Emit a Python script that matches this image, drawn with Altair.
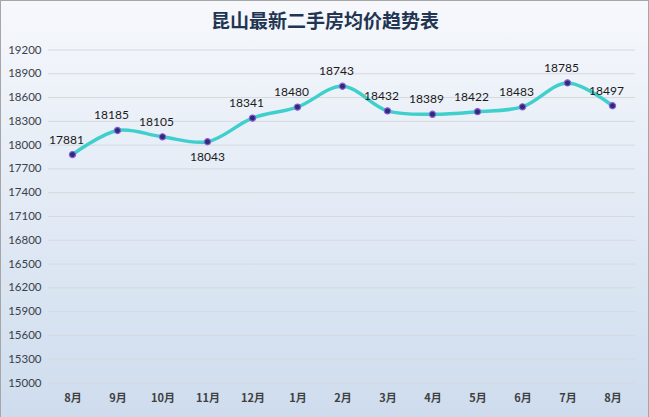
import json
import altair as alt
import pandas as pd

months = ["8月", "9月", "10月", "11月", "12月", "1月", "2月", "3月", "4月", "5月", "6月", "7月", "8月"]
prices = [17881, 18185, 18105, 18043, 18341, 18480, 18743, 18432, 18389, 18422, 18483, 18785, 18497]
below_labels = [3]  # indices whose value label sits under the point
y_ticks = list(range(15000, 19201, 300))
title_text = "昆山最新二手房均价趋势表"

df = pd.DataFrame({"idx": list(range(len(months))), "month": months, "price": prices})
df["pos"] = ["below" if i in below_labels else "above" for i in df["idx"]]
grid_df = pd.DataFrame({"price": y_ticks})
title_df = pd.DataFrame({"t": [title_text]})

W, H = 585, 333
label_expr = json.dumps(months, ensure_ascii=False) + "[datum.value]"

x = alt.X("idx:O", scale=alt.Scale(paddingInner=0, paddingOuter=0.5),
          axis=alt.Axis(title=None, labelExpr=label_expr, labelAngle=0, ticks=False, domain=False,
                        labelFont="Noto Sans CJK SC", labelFontWeight="bold", labelFontSize=11,
                        labelColor="#404040", labelPadding=9, grid=False, zindex=1))
yscale = alt.Scale(domain=[15000, 19200], nice=False, zero=False)
yaxis = alt.Axis(title=None, values=y_ticks, format="d", ticks=False, domain=False, labelFont="Lato",
                 labelFontSize=11.5, labelColor="#3a3f4a", labelPadding=9, grid=False, zindex=1)
y = alt.Y("price:Q", scale=yscale, axis=yaxis)

bg = alt.Chart(df).mark_rect(
    fill=alt.Gradient(gradient="linear", x1=0, y1=0, x2=0, y2=1,
                      stops=[alt.GradientStop(color="#f6f8fc", offset=0),
                             alt.GradientStop(color="#c9d9ec", offset=1)]),
    stroke="#a6a6a6", strokeWidth=1, clip=False
).encode(x=alt.value(-49.5), x2=alt.value(598.5), y=alt.value(-49.5), y2=alt.value(83.5 + H))

grid = alt.Chart(grid_df).mark_rule(color="#d6d9de", strokeWidth=1).encode(
    y=y, x=alt.value(-2), x2=alt.value(W))

title = alt.Chart(title_df).mark_text(
    font="Noto Sans CJK SC", fontSize=19, fontWeight="bold", color="#1f3552",
    align="center", baseline="middle"
).encode(text="t:N", x=alt.value(275), y=alt.value(-28))

base = alt.Chart(df)
line = base.mark_line(interpolate="catmull-rom", color="#3fcfcc", strokeWidth=3.5).encode(x=x, y=y)
pts = base.mark_circle(size=38, color="#2a2f6e", stroke="#8a5ae0", strokeWidth=1.2, opacity=1).encode(x=x, y=y)
lab_above = base.transform_filter(alt.datum.pos == "above").mark_text(
    font="Lato", fontSize=12, color="#1a1a1a", dx=-6, dy=-15).encode(x=x, y=y, text="price:Q")
lab_below = base.transform_filter(alt.datum.pos == "below").mark_text(
    font="Lato", fontSize=12, color="#1a1a1a", dx=0, dy=15).encode(x=x, y=y, text="price:Q")

chart = alt.layer(bg, grid, title, line, pts, lab_above, lab_below).properties(
    width=W, height=H,
    autosize=alt.AutoSizeParams(type="none"),
    padding={"left": 50, "top": 50, "right": 14, "bottom": 34},
    background="#ffffff",
).configure_view(stroke=None)

chart.save("out.html", embed_options={"renderer": "svg", "actions": False})
